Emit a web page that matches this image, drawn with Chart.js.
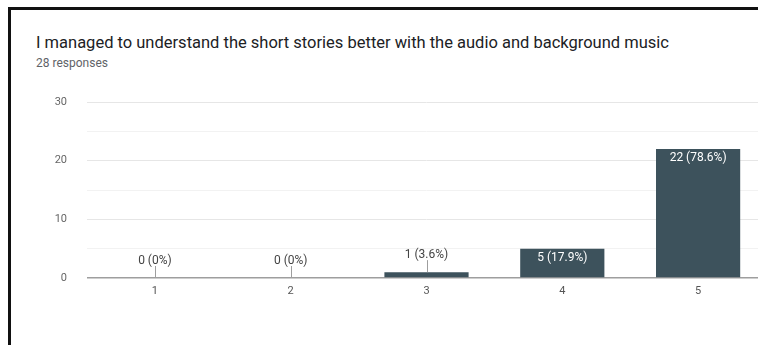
<!DOCTYPE html>
<html>
<head>
<meta charset="utf-8">
<script src="https://cdn.jsdelivr.net/npm/chart.js@4.4.1/dist/chart.umd.min.js"></script>
<style>
  html, body { margin: 0; padding: 0; width: 758px; height: 345px; overflow: hidden; background: #fff; }
  #frame { position: absolute; left: 8px; top: 7px; width: 800px; height: 400px; border-top: 3px solid #111; border-left: 3px solid #111; }
  #title { position: absolute; left: 36px; top: 33px; font: 16.5px Roboto, Arial, sans-serif; color: #202124; white-space: nowrap; }
  #sub { position: absolute; left: 36px; top: 56px; font: 12px Roboto, Arial, sans-serif; color: #5f6368; white-space: nowrap; }
  #wrap { position: absolute; left: 0; top: 0; width: 800px; height: 345px; }
</style>
</head>
<body>
<div id="frame"></div>
<div id="title">I managed to understand the short stories better with the audio and background music</div>
<div id="sub">28 responses</div>
<div id="wrap"><canvas id="c" width="800" height="345"></canvas></div>
<script>
const categories = ['1', '2', '3', '4', '5'];
const counts = [0, 0, 1, 5, 22];
const percentLabels = ['0%', '0%', '3.6%', '17.9%', '78.6%'];
const yTicks = [0, 10, 20, 30];

const barLabels = {
  id: 'barLabels',
  afterDatasetsDraw(chart) {
    const ctx = chart.ctx;
    const meta = chart.getDatasetMeta(0);
    ctx.save();
    ctx.font = '12px Roboto, Arial, sans-serif';
    ctx.textAlign = 'center';
    ctx.textBaseline = 'middle';
    meta.data.forEach((bar, i) => {
      const text = counts[i] + ' (' + percentLabels[i] + ')';
      const x = bar.x, top = bar.y, base = bar.base;
      if (base - top > 18) {
        ctx.fillStyle = '#ffffff';
        ctx.fillText(text, x, top + 9);
      } else {
        ctx.strokeStyle = '#9e9e9e';
        ctx.lineWidth = 1;
        ctx.beginPath();
        ctx.moveTo(Math.round(x) + 0.5, top);
        ctx.lineTo(Math.round(x) + 0.5, top - 12);
        ctx.stroke();
        ctx.fillStyle = '#444444';
        ctx.fillText(text, x, top - 17);
      }
    });
    ctx.restore();
  }
};

new Chart(document.getElementById('c'), {
  type: 'bar',
  data: {
    labels: categories,
    datasets: [{
      data: counts,
      backgroundColor: '#3d525c',
      barPercentage: 0.62,
      categoryPercentage: 1.0
    }]
  },
  options: {
    responsive: false,
    animation: false,
    layout: { padding: { left: 0, right: 34, top: 102, bottom: 0 } },
    plugins: { legend: { display: false }, tooltip: { enabled: false } },
    scales: {
      x: {
        grid: { display: false, drawTicks: false },
        border: { display: false },
        ticks: { color: '#555', font: { family: 'Roboto, Arial, sans-serif', size: 11 }, padding: 7 },
        afterFit(s) { s.height = 67; }
      },
      y: {
        min: 0, max: 30,
        grid: {
          drawTicks: false,
          color: c => c.tick.value === 0 ? '#9e9e9e' : (c.tick.value % 10 === 0 ? '#e6e6e6' : '#f2f2f2'),
          lineWidth: c => c.tick.value === 0 ? 1.5 : 1
        },
        border: { display: false },
        ticks: {
          stepSize: 5,
          padding: 20,
          color: '#666',
          font: { family: 'Roboto, Arial, sans-serif', size: 11 },
          callback: v => yTicks.includes(v) ? String(v) : ''
        },
        afterFit(s) { s.width = 87; }
      }
    }
  },
  plugins: [barLabels]
});
</script>
</body>
</html>
